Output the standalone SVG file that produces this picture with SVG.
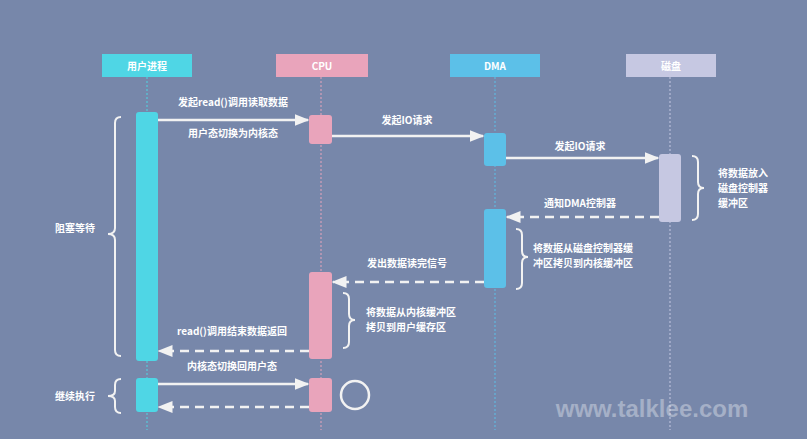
<svg xmlns="http://www.w3.org/2000/svg" width="807" height="439" viewBox="0 0 807 439">
<defs>
<style>
text{font-family:"Noto Sans CJK SC","Liberation Sans",sans-serif;fill:#fff;font-size:10px;font-weight:bold}
.life{stroke-width:1;stroke-dasharray:2 2}
.s{stroke:#f2f2f2;stroke-width:2.5;fill:none}
.d{stroke:#f2f2f2;stroke-width:2.5;fill:none;stroke-dasharray:9 6}
.b{stroke:#f2f2f2;stroke-width:2;fill:none}
</style>
<marker id="ah" viewBox="0 0 10 10" refX="9" refY="5" markerWidth="6" markerHeight="6" orient="auto"><path d="M0,1 L10,5 L0,9 z" fill="#f2f2f2"/></marker>
</defs>
<rect width="807" height="439" fill="#7787aa"/>
<g id="user">
<rect x="102" y="54" width="90" height="23" fill="#4fd6e5"/><text x="147" y="70" text-anchor="middle">用户进程</text>
<line x1="147" y1="77" x2="147" y2="430" stroke="#4fd6e5" class="life"/>
<rect x="136" y="112" width="22" height="249" rx="3" fill="#4fd6e5"/>
<rect x="136" y="378" width="22" height="34" rx="3" fill="#4fd6e5"/>
</g>
<g id="cpu">
<rect x="276" y="54" width="92" height="23" fill="#e9a4bb"/><text x="322" y="70" text-anchor="middle">CPU</text>
<line x1="321" y1="77" x2="321" y2="430" stroke="#e9a4bb" class="life"/>
<rect x="309" y="115" width="23" height="29" rx="3" fill="#e9a4bb"/>
<rect x="309" y="272" width="23" height="87" rx="3" fill="#e9a4bb"/>
<rect x="309" y="378" width="23" height="34" rx="3" fill="#e9a4bb"/>
</g>
<g id="dma">
<rect x="450" y="54" width="90" height="23" fill="#5cc0e8"/><text x="495" y="70" text-anchor="middle">DMA</text>
<line x1="495" y1="77" x2="495" y2="430" stroke="#5cc0e8" class="life"/>
<rect x="484" y="133" width="22" height="33" rx="3" fill="#5cc0e8"/>
<rect x="484" y="209" width="22" height="79" rx="3" fill="#5cc0e8"/>
</g>
<g id="disk">
<rect x="626" y="54" width="90" height="23" fill="#c6c8e2"/><text x="671" y="70" text-anchor="middle">磁盘</text>
<line x1="670" y1="77" x2="670" y2="430" stroke="#c6c8e2" class="life"/>
<rect x="659" y="154" width="22" height="68" rx="3" fill="#c6c8e2"/>
</g>
<g id="connectors">
<line x1="158" y1="120" x2="308" y2="120" class="s" marker-end="url(#ah)"/>
<line x1="332" y1="136" x2="483" y2="136" class="s" marker-end="url(#ah)"/>
<line x1="506" y1="158" x2="658" y2="158" class="s" marker-end="url(#ah)"/>
<line x1="659" y1="217" x2="507" y2="217" class="d" marker-end="url(#ah)"/>
<line x1="484" y1="282" x2="333" y2="282" class="d" marker-end="url(#ah)"/>
<line x1="309" y1="351" x2="159" y2="351" class="d" marker-end="url(#ah)"/>
<line x1="158" y1="384" x2="308" y2="384" class="s" marker-end="url(#ah)"/>
<line x1="309" y1="407" x2="159" y2="407" class="d" marker-end="url(#ah)"/>
</g>
<g id="braces">
<path class="b" d="M121,117 Q115,117 115,123 L115,228 Q115,234 108,234 Q115,234 115,240 L115,350 Q115,356 121,356"/>
<path class="b" d="M692,156 Q698,156 698,162 L698,182 Q698,188 704,188 Q698,188 698,194 L698,214 Q698,220 692,220"/>
<path class="b" d="M516,229 Q522,229 522,235 L522,251 Q522,257 528,257 Q522,257 522,263 L522,283 Q522,289 516,289"/>
<path class="b" d="M343,293 Q349,293 349,299 L349,314 Q349,320 355,320 Q349,320 349,326 L349,342 Q349,348 343,348"/>
<path class="b" d="M121,379 Q115,379 115,385 L115,391 Q115,396 108,396 Q115,396 115,401 L115,407 Q115,413 121,413"/>
<circle cx="355" cy="395" r="14" fill="none" stroke="#f2f2f2" stroke-width="2.5"/>
</g>
<g id="labels">
<text x="233" y="106" text-anchor="middle">发起read()调用读取数据</text>
<text x="233" y="137" text-anchor="middle">用户态切换为内核态</text>
<text x="407" y="124" text-anchor="middle">发起IO请求</text>
<text x="580" y="150" text-anchor="middle">发起IO请求</text>
<text x="580" y="207" text-anchor="middle">通知DMA控制器</text>
<text x="407" y="267" text-anchor="middle">发出数据读完信号</text>
<text x="232" y="335" text-anchor="middle">read()调用结束数据返回</text>
<text x="232" y="370" text-anchor="middle">内核态切换回用户态</text>
<text x="75" y="232" text-anchor="middle">阻塞等待</text>
<text x="75" y="400" text-anchor="middle">继续执行</text>
<text x="718" y="177">将数据放入</text>
<text x="718" y="192">磁盘控制器</text>
<text x="718" y="207">缓冲区</text>
<text x="533" y="252">将数据从磁盘控制器缓</text>
<text x="533" y="267">冲区拷贝到内核缓冲区</text>
<text x="366" y="316">将数据从内核缓冲区</text>
<text x="366" y="331">拷贝到用户缓存区</text>
<text x="652" y="417" text-anchor="middle" style="font-size:24px;fill:#ffffff;fill-opacity:0.35;font-family:'Liberation Sans',sans-serif">www.talklee.com</text>
</g>
</svg>
